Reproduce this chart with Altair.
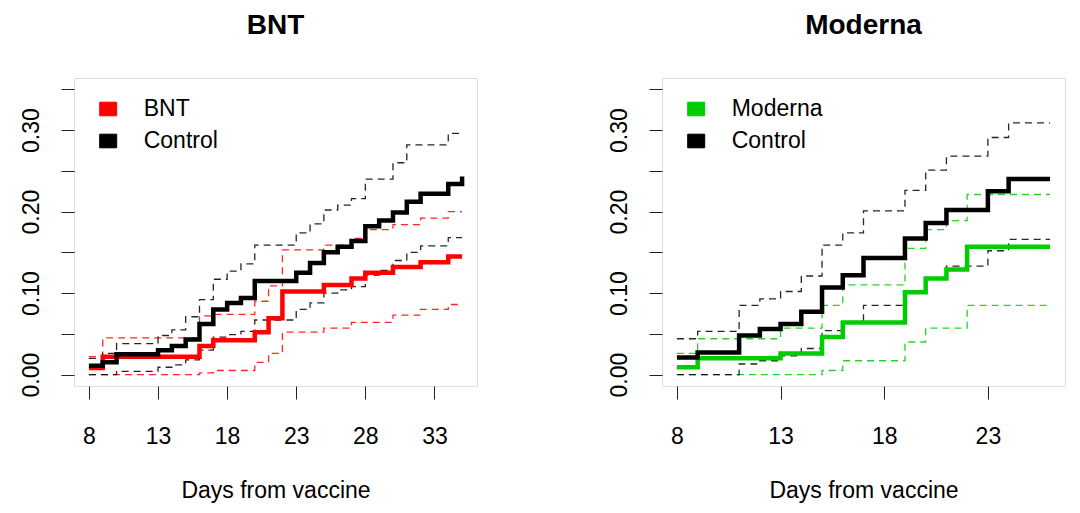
import altair as alt
import pandas as pd

FONT = "Liberation Sans"

# ---------------- BNT panel ----------------
bnt_days = [8, 9, 16, 17, 20, 21, 22, 25, 27, 28, 30, 32, 34, 35]
bnt_est = [0.008, 0.022, 0.035, 0.042, 0.052, 0.069, 0.102, 0.110, 0.118, 0.125, 0.132, 0.138, 0.145, 0.145]
bnt_lo = [0.000, 0.000, 0.002, 0.005, 0.015, 0.026, 0.052, 0.057, 0.064, 0.064, 0.073, 0.080, 0.086, 0.086]
bnt_hi = [0.022, 0.045, 0.072, 0.074, 0.090, 0.109, 0.153, 0.159, 0.167, 0.178, 0.184, 0.192, 0.200, 0.200]

ctl1_days = [8, 9, 10, 13, 14, 15, 16, 17, 18, 19, 20, 23, 24, 25, 26, 27, 28, 29, 30, 31, 32, 34, 35]
ctl1_est = [0.011, 0.015, 0.025, 0.030, 0.035, 0.043, 0.062, 0.080, 0.088, 0.094, 0.115, 0.125, 0.137,
            0.150, 0.157, 0.164, 0.182, 0.189, 0.199, 0.212, 0.222, 0.234, 0.243]
ctl1_lo = [0.000, 0.000, 0.004, 0.009, 0.012, 0.018, 0.030, 0.046, 0.049, 0.053, 0.067, 0.080, 0.088,
           0.100, 0.104, 0.108, 0.122, 0.128, 0.140, 0.150, 0.158, 0.168, 0.168]
ctl1_hi = [0.020, 0.026, 0.038, 0.048, 0.055, 0.071, 0.092, 0.117, 0.127, 0.136, 0.159, 0.174, 0.185,
           0.202, 0.208, 0.216, 0.240, 0.240, 0.260, 0.282, 0.282, 0.296, 0.296]

# ---------------- Moderna panel ----------------
mod_days = [8, 9, 13, 15, 16, 19, 20, 21, 22, 26]
mod_est = [0.009, 0.020, 0.026, 0.046, 0.064, 0.101, 0.118, 0.129, 0.157, 0.157]
mod_lo = [0.000, 0.000, 0.000, 0.005, 0.017, 0.040, 0.057, 0.057, 0.085, 0.085]
mod_hi = [0.026, 0.044, 0.057, 0.085, 0.110, 0.155, 0.178, 0.189, 0.221, 0.221]

ctl2_days = [8, 9, 11, 12, 13, 14, 15, 16, 17, 19, 20, 21, 23, 24, 26]
ctl2_est = [0.021, 0.027, 0.048, 0.056, 0.062, 0.077, 0.107, 0.122, 0.143, 0.167, 0.186, 0.202, 0.225, 0.240, 0.240]
ctl2_lo = [0.000, 0.000, 0.013, 0.017, 0.023, 0.032, 0.054, 0.064, 0.085, 0.101, 0.118, 0.133, 0.152, 0.166, 0.166]
ctl2_hi = [0.044, 0.053, 0.085, 0.093, 0.102, 0.121, 0.159, 0.174, 0.201, 0.226, 0.251, 0.268, 0.291, 0.309, 0.309]

y_ticks = [0, 0.05, 0.1, 0.15, 0.2, 0.25, 0.3, 0.35]
x_ticks_bnt = [8, 13, 18, 23, 28, 33]
x_ticks_mod = [8, 13, 18, 23]


def long_rows(days, est, lo, hi, group):
    rows = []
    for d, e, l, h in zip(days, est, lo, hi):
        rows.append({"day": d, "value": e, "kind": "est", "group": group})
        rows.append({"day": d, "value": l, "kind": "lo", "group": group})
        rows.append({"day": d, "value": h, "kind": "hi", "group": group})
    return rows


def panel(df, title, vacc, color, xticks, xdom):
    dom = [vacc, "Control"]
    rng = [color, "#000000"]
    base = alt.Chart(df)
    x = alt.X("day:Q",
              scale=alt.Scale(domain=xdom, nice=False, zero=False),
              axis=alt.Axis(values=xticks, title="Days from vaccine", grid=False, domain=False,
                            tickSize=13, tickColor="#222", labelPadding=26, labelFont=FONT,
                            labelFontSize=23, labelColor="black", titleFont=FONT, titleFontSize=23,
                            titleFontWeight="normal", titleColor="black", titlePadding=31,
                            labelFlush=False))
    y = alt.Y("value:Q",
              scale=alt.Scale(domain=[-0.014, 0.364], nice=False, zero=False),
              axis=alt.Axis(values=y_ticks, title=None, grid=False, domain=False, tickSize=13,
                            tickColor="#222", labelPadding=30, labelFont=FONT, labelFontSize=23,
                            labelColor="black", labelAngle=270, labelAlign="center",
                            labelBaseline="middle", labelOverlap=False, labelFlush=False,
                            labelExpr="round(datum.value*100) % 10 == 0 ? format(datum.value, '.2f') : ''"))
    leg = base.transform_filter("false").mark_square(filled=True).encode(
        x=x, y=y,
        fill=alt.Fill("group:N", scale=alt.Scale(domain=dom, range=rng),
                      legend=alt.Legend(orient="none", legendX=22.7, legendY=19.5, title=None,
                                        symbolType="M-1,-0.8H1V0.8H-1Z", symbolSize=289,
                                        symbolStrokeColor="black", symbolStrokeWidth=1,
                                        symbolOpacity=1, labelFont=FONT, labelFontSize=23,
                                        labelColor="black", labelOffset=24, rowPadding=8,
                                        padding=0)))
    stroke = alt.Stroke("group:N", scale=alt.Scale(domain=dom, range=rng), legend=None)
    dashed = base.transform_filter("datum.kind != 'est'").mark_line(
        interpolate="step-after", strokeWidth=1.3, strokeDash=[7, 5], opacity=0.85).encode(
        x=x, y=y, stroke=stroke, detail="kind:N")
    solid = base.transform_filter("datum.kind == 'est'").mark_line(
        interpolate="step-after", strokeWidth=4.5).encode(x=x, y=y, stroke=stroke)
    return alt.layer(leg, dashed, solid).properties(
        width=403, height=308,
        title=alt.TitleParams(text=title, font=FONT, fontSize=28, fontWeight="bold",
                              color="black", anchor="middle", offset=38))


df_bnt = pd.DataFrame(long_rows(bnt_days, bnt_est, bnt_lo, bnt_hi, "BNT")
                      + long_rows(ctl1_days, ctl1_est, ctl1_lo, ctl1_hi, "Control"))
df_mod = pd.DataFrame(long_rows(mod_days, mod_est, mod_lo, mod_hi, "Moderna")
                      + long_rows(ctl2_days, ctl2_est, ctl2_lo, ctl2_hi, "Control"))

left = panel(df_bnt, "BNT", "BNT", "#FF0000", x_ticks_bnt, [6.92, 36.08])
right = panel(df_mod, "Moderna", "Moderna", "#00CD00", x_ticks_mod, [7.28, 26.72])

chart = alt.hconcat(left, right, spacing=129).resolve_scale(
    fill="independent", stroke="independent", x="independent", y="independent"
).properties(
    padding={"left": 11, "top": 3, "right": 5, "bottom": 0}
).configure_view(stroke="#333", strokeWidth=1.2).configure(background="white")

chart.save("out.html", embed_options={"renderer": "svg", "actions": False})
